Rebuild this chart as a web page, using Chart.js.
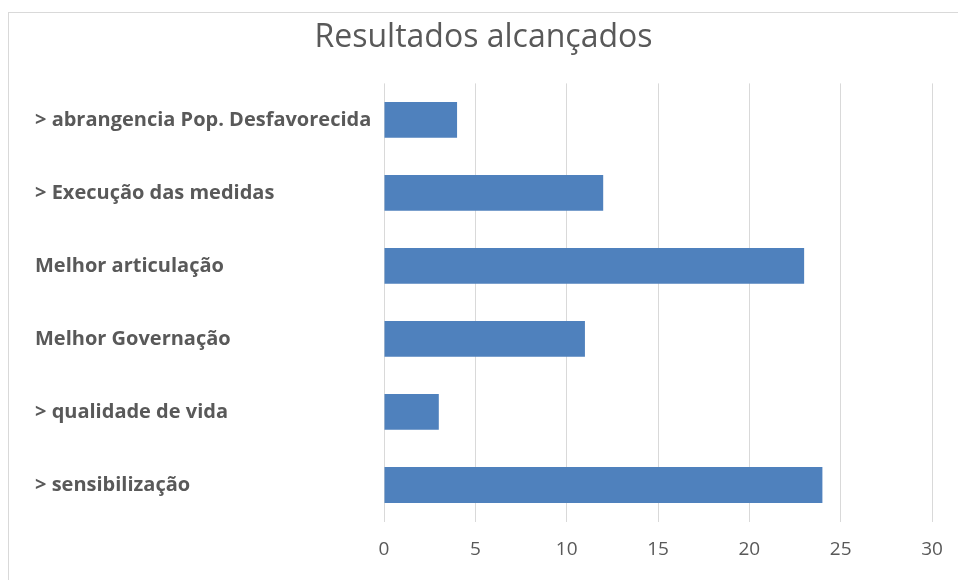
<!DOCTYPE html>
<html>
<head>
<meta charset="utf-8">
<script src="https://cdn.jsdelivr.net/npm/chart.js@4/dist/chart.umd.min.js"></script>
<style>
  html, body { margin: 0; padding: 0; background: #ffffff; }
  #wrap { position: relative; width: 958px; height: 580px; overflow: hidden; }
  #frame { position: absolute; left: 8px; top: 12px; width: 1000px; height: 620px; border: 1px solid #d9d9d9; box-sizing: border-box; }
  canvas { position: absolute; left: 0; top: 0; }
</style>
</head>
<body>
<div id="wrap">
  <div id="frame"></div>
  <canvas id="c" width="958" height="580"></canvas>
</div>
<script>
const chartTitle = "Resultados alcançados";
const categories = [
  "> abrangencia Pop. Desfavorecida",
  "> Execução das medidas",
  "Melhor articulação",
  "Melhor Governação",
  "> qualidade de vida",
  "> sensibilização"
];
const values = [4, 12, 23, 11, 3, 24];
const xTicks = [0, 5, 10, 15, 20, 25, 30];

const FONT = "'Open Sans', 'Noto Sans', sans-serif";
const TEXT = "#595959";

new Chart(document.getElementById("c"), {
  type: "bar",
  data: {
    labels: categories,
    datasets: [{
      data: values,
      backgroundColor: "#4F81BD",
      borderWidth: 0,
      barPercentage: 0.49,
      categoryPercentage: 1.0
    }]
  },
  options: {
    indexAxis: "y",
    responsive: false,
    animation: false,
    layout: { padding: { left: 35, right: 26, top: 0, bottom: 18.5 } },
    plugins: {
      legend: { display: false },
      tooltip: { enabled: false },
      title: {
        display: true,
        text: chartTitle,
        color: TEXT,
        font: { family: FONT, size: 32, weight: "normal" },
        padding: { top: 19, bottom: 26 }
      }
    },
    scales: {
      x: {
        min: xTicks[0],
        max: xTicks[xTicks.length - 1],
        afterBuildTicks: (s) => { s.ticks = xTicks.map(v => ({ value: v })); },
        afterFit: (s) => { s.height = 40; s.paddingLeft = 0; s.paddingRight = 0; },
        grid: { color: "#d9d9d9", lineWidth: 1, drawTicks: false },
        border: { display: false },
        ticks: { color: TEXT, font: { family: FONT, size: 19 }, padding: 17 }
      },
      y: {
        grid: { display: false },
        border: { display: false },
        afterFit: (s) => { s.width = 349; s.paddingTop = 0; s.paddingBottom = 0; },
        ticks: {
          color: TEXT,
          crossAlign: "far",
          font: { family: FONT, size: 20, weight: "bold" }
        }
      }
    }
  }
});
</script>
</body>
</html>
